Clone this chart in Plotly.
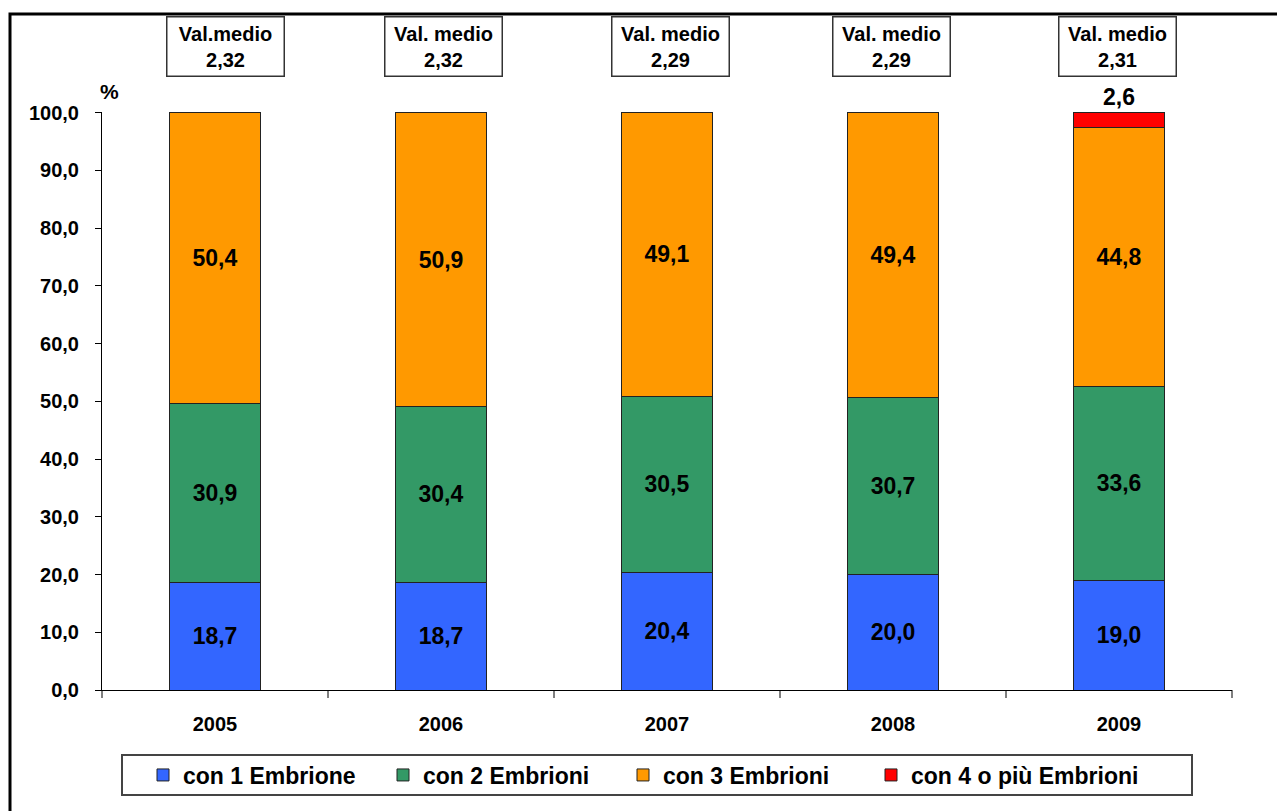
import plotly.graph_objects as go

years = ["2005", "2006", "2007", "2008", "2009"]
emb1 = [18.7, 18.7, 20.4, 20.0, 19.0]
emb2 = [30.9, 30.4, 30.5, 30.7, 33.6]
emb3 = [50.4, 50.9, 49.1, 49.4, 44.8]
emb4 = [None, None, None, None, 2.6]
val_medio_labels = ["Val.medio", "Val. medio", "Val. medio", "Val. medio", "Val. medio"]
val_medio = [2.32, 2.32, 2.29, 2.29, 2.31]
series_names = ["con 1 Embrione", "con 2 Embrioni", "con 3 Embrioni", "con 4 o più Embrioni"]
colors = ["#3366FF", "#339966", "#FF9900", "#FF0000"]

FONT = "Liberation Sans, Arial, sans-serif"

# reference-pixel -> paper helpers
L, B, PW, PH = 102, 690, 1130, 578
def px(x): return (x - L) / PW
def py(y): return (B - y) / PH

legend_ids = ["legend", "legend2", "legend3", "legend4"]
legend_sym_x = [163, 403, 643, 891]

fig = go.Figure()
for k, (name, vals, col) in enumerate(zip(series_names, [emb1, emb2, emb3, emb4], colors)):
    last = k == 3
    fig.add_trace(go.Bar(
        x=years, y=vals, name=name,
        marker=dict(color=col, line=dict(color="#222222", width=1)),
        texttemplate="%{y:.1f}",
        textposition="outside" if last else "inside",
        insidetextanchor="middle",
        textfont=dict(family=FONT, size=23, color="black", weight="bold"),
        cliponaxis=False,
        width=0.4,
        legend=legend_ids[k],
    ))

shifts = [10, 2, 3, -2, -2]
for i, (lab, v, sh) in enumerate(zip(val_medio_labels, val_medio, shifts)):
    vtxt = f"{v:.2f}".replace(".", ",")
    fig.add_annotation(
        x=i, xref="x", y=1.1125, yref="paper", yanchor="middle",
        xshift=sh,
        text=f"<b>{lab}<br>{vtxt}</b>",
        showarrow=False, align="center",
        font=dict(family=FONT, size=20, color="black"),
        bgcolor="white", bordercolor="#333333", borderwidth=1.5,
        borderpad=4, width=108, height=50,
    )

fig.add_annotation(x=0.007, xref="paper", y=1.035, yref="paper",
                   xanchor="center", yanchor="middle",
                   text="<b>%</b>", showarrow=False,
                   font=dict(family=FONT, size=21, color="black"))

# legend box
fig.add_shape(type="rect", xref="paper", yref="paper",
              x0=px(122), x1=px(1192), y0=py(795), y1=py(755),
              line=dict(color="#444444", width=2), fillcolor="rgba(0,0,0,0)")
# outer frame
fig.add_shape(type="rect", xref="paper", yref="paper",
              x0=px(10), x1=px(1300), y0=py(830), y1=py(14),
              line=dict(color="black", width=3), fillcolor="rgba(0,0,0,0)")

# category boundary ticks on x axis
for i in range(len(years) + 1):
    fig.add_shape(type="line", xref="paper", yref="paper",
                  x0=i / len(years), x1=i / len(years), y0=0, y1=py(698),
                  line=dict(color="black", width=1))

legend_common = dict(orientation="h", xanchor="left", y=py(775), yanchor="middle",
                     font=dict(family=FONT, size=23, color="black", weight="bold"),
                     bgcolor="rgba(0,0,0,0)", borderwidth=0, itemwidth=30)
legend_layouts = {lid: dict(legend_common, x=px(sx - 20)) for lid, sx in zip(legend_ids, legend_sym_x)}

fig.update_layout(
    width=1277, height=803,
    barmode="stack", bargap=0.6,
    separators=",.",
    paper_bgcolor="white", plot_bgcolor="white",
    margin=dict(l=94, r=53, t=104, b=121, pad=0),
    font=dict(family=FONT, color="black"),
    showlegend=True,
    xaxis=dict(type="category", range=[-0.5, 4.5], showline=True, linecolor="black",
               linewidth=1, ticks="", ticklabelstandoff=16,
               tickfont=dict(family=FONT, size=20, weight="bold"), showgrid=False),
    yaxis=dict(range=[0, 100.12], tick0=0, dtick=10, tickformat=".1f", showline=True,
               linecolor="black", linewidth=1, ticks="outside", ticklen=6, tickcolor="black",
               ticklabelstandoff=12,
               tickfont=dict(family=FONT, size=20, weight="bold"), showgrid=False,
               zeroline=False),
    **legend_layouts,
)

fig.write_html("out.html")
